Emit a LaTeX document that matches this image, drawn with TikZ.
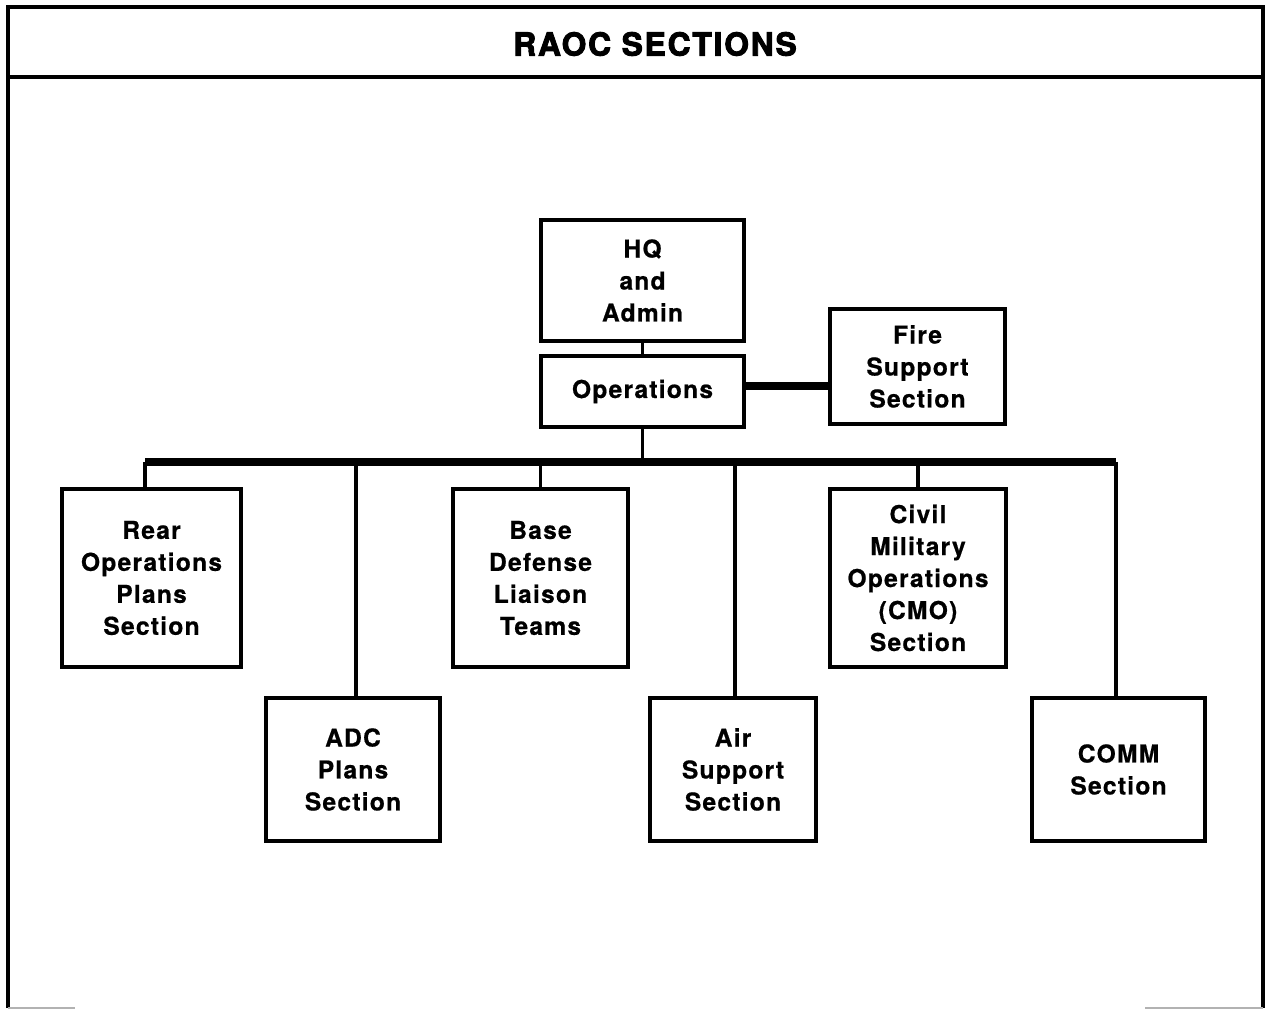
\documentclass[tikz,border=0pt]{standalone}
\usepackage{fontspec}
\setmainfont{TeX Gyre Heros}
\begin{document}
\begin{tikzpicture}[x=0.02cm,y=-0.02cm,
        sect/.style={draw,line width=2.2pt,align=center,inner sep=0pt,
            font=\bfseries\addfontfeatures{LetterSpace=5,FakeBold=0.6}\fontsize{14}{18.2}\selectfont},
        link/.style={line width=2.1pt},
        bus/.style={line width=4.6pt}]
    \useasboundingbox (0,0) rectangle (1266,1010);

    % frame and title band
    \draw[line width=2.2pt] (8,1008) -- (8,7) -- (1263,7) -- (1263,1008);
    \draw[line width=2.2pt] (8,77) -- (1263,77);
    \draw[gray!60,line width=1pt] (8,1008) -- (75,1008);
    \draw[gray!60,line width=1pt] (1145,1008) -- (1263,1008);
    \node (title) at (655,44) {\bfseries\addfontfeatures{FakeBold=3,LetterSpace=6}\fontsize{18}{22}\selectfont RAOC SECTIONS};

    % top of the chart
    \node[sect,minimum width=4.06cm,minimum height=2.42cm] (hq) at (642.5,280.5) {HQ\\and\\Admin};
    \node[sect,minimum width=4.06cm,minimum height=1.42cm] (ops) at (642.5,391.5) {Operations};
    \node[sect,minimum width=3.5cm,minimum height=2.3cm] (fire) at (917.5,366.5) {Fire\\Support\\Section};

    \draw[link] (hq) -- (ops);
    \draw[bus] (ops.east |- 0,386) -- (fire.west |- 0,386);

    % sections on the bus
    \node[sect,minimum width=3.58cm,minimum height=3.56cm] (rear) at (151.5,578) {Rear\\Operations\\Plans\\Section};
    \node[sect,minimum width=3.5cm,minimum height=3.56cm] (base) at (540.5,578) {Base\\Defense\\Liaison\\Teams};
    \node[sect,minimum width=3.52cm,minimum height=3.56cm] (cmo) at (918,578) {Civil\\Military\\Operations\\(CMO)\\Section};
    \node[sect,minimum width=3.48cm,minimum height=2.86cm] (adc) at (353,769.5) {ADC\\Plans\\Section};
    \node[sect,minimum width=3.32cm,minimum height=2.86cm] (air) at (733,769.5) {Air\\Support\\Section};
    \node[sect,minimum width=3.46cm,minimum height=2.86cm] (comm) at (1118.5,769.5) {COMM\\Section};

    \coordinate (busL) at (145,462);
    \coordinate (busR) at (1116,462);
    \draw[bus] (busL) -- (busR);
    \draw[link] (ops.south) -- (ops.south |- busL);
    \draw[link] (busL) -- (busL |- rear.north);
    \draw[link] (busR) -- (busR |- comm.north);
    \draw[link] (base.north) -- (base.north |- busL);
    \draw[link] (cmo.north) -- (cmo.north |- busL);
    \draw[link] (356,462) -- (356,0 |- adc.north);
    \draw[link] (735,462) -- (735,0 |- air.north);
\end{tikzpicture}
\end{document}
